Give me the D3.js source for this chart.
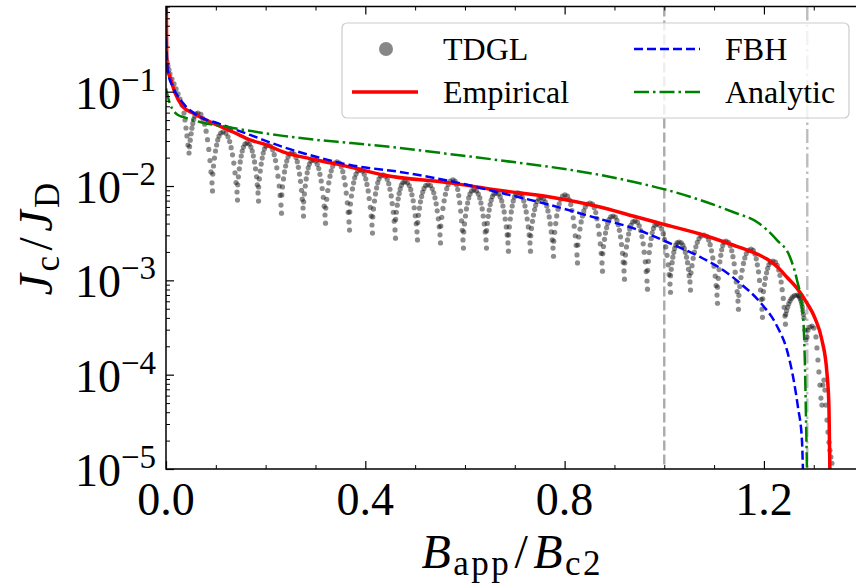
<!DOCTYPE html>
<html>
<head>
<meta charset="utf-8">
<script src="https://cdn.jsdelivr.net/npm/d3@7"></script>
<style>
  body { margin: 0; background: #fff; }
  svg { display: block; }
  text { font-family: "Liberation Serif", "DejaVu Serif", serif; fill: #000; }
</style>
</head>
<body>
<div id="chart"></div>
<script>
// ---- data (B_app/B_c2 , J_c/J_D) ----

// TDGL scatter, in order of field: the falling head, then one row per arch, then the tail
var tdgl = [
  [0.0020,0.207],[0.0040,0.187],[0.0060,0.170],[0.0080,0.154],[0.0120,0.136],[0.0161,0.121],[0.0201,0.107],[0.0241,0.0946],[0.0281,0.0837],[0.0321,0.0723],[0.0361,0.0594],[0.0381,0.0501],[0.0401,0.0412],[0.0421,0.0340],[0.0441,0.0272],[0.0462,0.0224],
  [0.0473,0.0261],[0.0487,0.0306],[0.0504,0.0358],[0.0520,0.0410],[0.0538,0.0461],[0.0556,0.0508],[0.0578,0.0549],[0.0604,0.0583],[0.0642,0.0594],[0.0700,0.0574],[0.0742,0.0518],[0.0776,0.0452],[0.0805,0.0381],[0.0833,0.0310],[0.0859,0.0244],[0.0883,0.0186],[0.0903,0.0141],[0.0923,0.0108],
  [0.0939,0.0134],[0.0953,0.0163],[0.0973,0.0198],[0.0993,0.0235],[0.1016,0.0272],[0.1038,0.0308],[0.1064,0.0339],[0.1098,0.0365],[0.1144,0.0374],[0.1202,0.0363],[0.1244,0.0332],[0.1278,0.0296],[0.1307,0.0255],[0.1335,0.0214],[0.1361,0.0175],[0.1385,0.0138],[0.1405,0.0109],[0.1425,0.00864],
  [0.1439,0.0103],[0.1453,0.0125],[0.1471,0.0152],[0.1490,0.0180],[0.1510,0.0208],[0.1530,0.0235],[0.1554,0.0259],[0.1584,0.0279],[0.1626,0.0286],[0.1672,0.0279],[0.1706,0.0259],[0.1732,0.0235],[0.1754,0.0208],[0.1777,0.0180],[0.1797,0.0152],[0.1817,0.0125],[0.1831,0.0103],[0.1847,0.00844],
  [0.1860,0.00976],[0.1874,0.0119],[0.1892,0.0144],[0.1911,0.0171],[0.1931,0.0198],[0.1951,0.0224],[0.1975,0.0247],[0.2005,0.0265],[0.2047,0.0272],[0.2101,0.0264],[0.2141,0.0242],[0.2171,0.0215],[0.2198,0.0186],[0.2224,0.0156],[0.2248,0.0127],[0.2272,0.0100],[0.2290,0.00794],[0.2308,0.00628],
  [0.2324,0.00804],[0.2338,0.00977],[0.2358,0.0119],[0.2378,0.0141],[0.2401,0.0163],[0.2423,0.0184],[0.2449,0.0203],[0.2483,0.0219],[0.2529,0.0224],[0.2575,0.0218],[0.2609,0.0201],[0.2635,0.0181],[0.2657,0.0158],[0.2680,0.0134],[0.2700,0.0112],[0.2720,0.00900],[0.2734,0.00726],[0.2750,0.00585],
  [0.2763,0.00679],[0.2777,0.00824],[0.2795,0.0100],[0.2814,0.0119],[0.2834,0.0138],[0.2854,0.0156],[0.2878,0.0171],[0.2908,0.0184],[0.2950,0.0189],[0.3000,0.0184],[0.3036,0.0170],[0.3066,0.0153],[0.3090,0.0133],[0.3115,0.0113],[0.3135,0.00941],[0.3157,0.00760],[0.3175,0.00612],[0.3191,0.00493],
  [0.3207,0.00583],[0.3225,0.00724],[0.3247,0.00896],[0.3267,0.0108],[0.3292,0.0127],[0.3316,0.0145],[0.3346,0.0162],[0.3382,0.0175],[0.3432,0.0180],[0.3482,0.0175],[0.3518,0.0160],[0.3548,0.0142],[0.3572,0.0123],[0.3597,0.0103],[0.3617,0.00841],[0.3639,0.00664],[0.3657,0.00526],[0.3673,0.00416],
  [0.3688,0.00531],[0.3702,0.00645],[0.3722,0.00784],[0.3742,0.00931],[0.3765,0.0108],[0.3787,0.0122],[0.3813,0.0134],[0.3847,0.0144],[0.3893,0.0148],[0.3943,0.0144],[0.3979,0.0133],[0.4009,0.0119],[0.4033,0.0104],[0.4058,0.00888],[0.4078,0.00737],[0.4100,0.00595],[0.4118,0.00480],[0.4134,0.00386],
  [0.4150,0.00470],[0.4164,0.00571],[0.4184,0.00694],[0.4204,0.00824],[0.4227,0.00954],[0.4249,0.0108],[0.4275,0.0119],[0.4309,0.0128],[0.4355,0.0131],[0.4405,0.0127],[0.4441,0.0118],[0.4471,0.0106],[0.4495,0.00924],[0.4520,0.00786],[0.4540,0.00652],[0.4562,0.00527],[0.4580,0.00424],[0.4596,0.00342],
  [0.4609,0.00442],[0.4623,0.00527],[0.4641,0.00627],[0.4660,0.00731],[0.4680,0.00835],[0.4700,0.00931],[0.4724,0.0102],[0.4754,0.0109],[0.4796,0.0111],[0.4846,0.0108],[0.4882,0.0101],[0.4912,0.00914],[0.4936,0.00808],[0.4961,0.00698],[0.4981,0.00588],[0.5003,0.00484],[0.5021,0.00398],[0.5037,0.00327],
  [0.5053,0.00410],[0.5067,0.00489],[0.5087,0.00582],[0.5107,0.00679],[0.5130,0.00775],[0.5152,0.00864],[0.5178,0.00943],[0.5212,0.0101],[0.5258,0.0103],[0.5308,0.0101],[0.5344,0.00934],[0.5374,0.00848],[0.5398,0.00750],[0.5423,0.00648],[0.5443,0.00546],[0.5465,0.00449],[0.5483,0.00370],[0.5499,0.00304],
  [0.5516,0.00376],[0.5534,0.00466],[0.5558,0.00578],[0.5582,0.00696],[0.5608,0.00818],[0.5635,0.00936],[0.5665,0.0104],[0.5705,0.0113],[0.5759,0.0116],[0.5801,0.0113],[0.5831,0.0103],[0.5855,0.00918],[0.5875,0.00792],[0.5895,0.00665],[0.5914,0.00542],[0.5932,0.00428],[0.5946,0.00339],[0.5960,0.00268],
  [0.5976,0.00326],[0.5990,0.00396],[0.6010,0.00481],[0.6030,0.00571],[0.6053,0.00661],[0.6075,0.00747],[0.6101,0.00824],[0.6135,0.00886],[0.6181,0.00908],[0.6231,0.00886],[0.6267,0.00824],[0.6297,0.00747],[0.6321,0.00661],[0.6346,0.00571],[0.6366,0.00481],[0.6388,0.00396],[0.6406,0.00326],[0.6422,0.00268],
  [0.6435,0.00336],[0.6449,0.00401],[0.6467,0.00477],[0.6486,0.00556],[0.6506,0.00635],[0.6526,0.00708],[0.6550,0.00773],[0.6580,0.00825],[0.6622,0.00844],[0.6672,0.00824],[0.6708,0.00766],[0.6738,0.00695],[0.6762,0.00614],[0.6787,0.00531],[0.6807,0.00447],[0.6829,0.00368],[0.6847,0.00303],[0.6863,0.00249],
  [0.6877,0.00303],[0.6891,0.00368],[0.6909,0.00447],[0.6928,0.00531],[0.6948,0.00614],[0.6968,0.00695],[0.6992,0.00766],[0.7022,0.00824],[0.7064,0.00844],[0.7114,0.00824],[0.7150,0.00766],[0.7180,0.00695],[0.7204,0.00614],[0.7229,0.00531],[0.7249,0.00447],[0.7271,0.00368],[0.7289,0.00303],[0.7305,0.00249],
  [0.7321,0.00297],[0.7335,0.00355],[0.7355,0.00422],[0.7375,0.00492],[0.7398,0.00562],[0.7420,0.00627],[0.7446,0.00684],[0.7480,0.00731],[0.7526,0.00747],[0.7576,0.00729],[0.7612,0.00678],[0.7642,0.00615],[0.7666,0.00544],[0.7691,0.00470],[0.7711,0.00396],[0.7733,0.00326],[0.7751,0.00268],[0.7767,0.00220],
  [0.7782,0.00260],[0.7800,0.00323],[0.7822,0.00400],[0.7842,0.00482],[0.7867,0.00567],[0.7891,0.00649],[0.7921,0.00722],[0.7957,0.00782],[0.8007,0.00804],[0.8057,0.00781],[0.8093,0.00715],[0.8123,0.00636],[0.8147,0.00549],[0.8172,0.00461],[0.8192,0.00375],[0.8214,0.00297],[0.8232,0.00235],[0.8248,0.00186],
  [0.8266,0.00237],[0.8284,0.00288],[0.8308,0.00350],[0.8332,0.00416],[0.8358,0.00481],[0.8385,0.00544],[0.8415,0.00600],[0.8455,0.00645],[0.8509,0.00661],[0.8559,0.00642],[0.8595,0.00588],[0.8625,0.00523],[0.8649,0.00451],[0.8674,0.00379],[0.8694,0.00309],[0.8716,0.00244],[0.8734,0.00193],[0.8750,0.00153],
  [0.8766,0.00191],[0.8780,0.00228],[0.8800,0.00272],[0.8820,0.00317],[0.8843,0.00362],[0.8865,0.00404],[0.8891,0.00441],[0.8925,0.00470],[0.8971,0.00481],[0.9017,0.00468],[0.9051,0.00432],[0.9077,0.00388],[0.9099,0.00339],[0.9122,0.00289],[0.9142,0.00240],[0.9162,0.00193],[0.9176,0.00156],[0.9192,0.00126],
  [0.9207,0.00153],[0.9221,0.00186],[0.9241,0.00226],[0.9261,0.00268],[0.9284,0.00310],[0.9306,0.00351],[0.9332,0.00386],[0.9366,0.00416],[0.9412,0.00426],[0.9462,0.00414],[0.9498,0.00379],[0.9528,0.00337],[0.9552,0.00291],[0.9577,0.00244],[0.9597,0.00199],[0.9619,0.00157],[0.9637,0.00124],[0.9653,0.000984],
  [0.9667,0.00128],[0.9681,0.00159],[0.9699,0.00197],[0.9718,0.00237],[0.9738,0.00278],[0.9758,0.00319],[0.9782,0.00355],[0.9812,0.00384],[0.9854,0.00395],[0.9908,0.00384],[0.9948,0.00351],[0.9978,0.00312],[1.0005,0.00270],[1.0031,0.00226],[1.0055,0.00184],[1.0079,0.00146],[1.0097,0.00115],[1.0115,0.000912],
  [1.0126,0.00112],[1.0140,0.00131],[1.0157,0.00154],[1.0173,0.00176],[1.0191,0.00198],[1.0209,0.00218],[1.0231,0.00236],[1.0257,0.00250],[1.0295,0.00255],[1.0341,0.00250],[1.0375,0.00236],[1.0401,0.00218],[1.0423,0.00198],[1.0446,0.00176],[1.0466,0.00154],[1.0486,0.00131],[1.0500,0.00112],[1.0516,0.000961],
  [1.0536,0.00120],[1.0556,0.00143],[1.0580,0.00171],[1.0606,0.00199],[1.0634,0.00227],[1.0663,0.00253],[1.0697,0.00277],[1.0739,0.00295],[1.0797,0.00302],[1.0851,0.00293],[1.0891,0.00268],[1.0921,0.00239],[1.0948,0.00206],[1.0974,0.00173],[1.0998,0.00141],[1.1022,0.00111],[1.1040,0.000882],[1.1058,0.000698],
  [1.1069,0.000846],[1.1083,0.00105],[1.1100,0.00130],[1.1116,0.00157],[1.1134,0.00184],[1.1152,0.00211],[1.1174,0.00234],[1.1200,0.00254],[1.1238,0.00261],[1.1288,0.00253],[1.1324,0.00232],[1.1354,0.00206],[1.1378,0.00178],[1.1403,0.00150],[1.1423,0.00122],[1.1445,0.000963],[1.1463,0.000762],[1.1479,0.000603],
  [1.1497,0.000693],[1.1515,0.000860],[1.1539,0.00107],[1.1563,0.00128],[1.1589,0.00151],[1.1616,0.00173],[1.1646,0.00192],[1.1686,0.00208],[1.1740,0.00214],[1.1786,0.00208],[1.1820,0.00190],[1.1846,0.00169],[1.1868,0.00146],[1.1891,0.00123],[1.1911,0.000999],[1.1931,0.000790],[1.1945,0.000625],[1.1961,0.000494],
  [1.1976,0.000637],[1.1990,0.000760],[1.2010,0.000904],[1.2030,0.00105],[1.2053,0.00120],[1.2075,0.00134],[1.2101,0.00147],[1.2135,0.00156],[1.2181,0.00160],[1.2231,0.00156],[1.2267,0.00144],[1.2297,0.00129],[1.2321,0.00113],[1.2346,0.000960],[1.2366,0.000797],[1.2388,0.000643],[1.2406,0.000518],[1.2422,0.000418],
  [1.2438,0.000436],[1.2456,0.000476],[1.2478,0.000521],[1.2498,0.000564],[1.2523,0.000603],[1.2547,0.000638],[1.2577,0.000667],[1.2613,0.000690],[1.2663,0.000698],[1.2693,0.000690],[1.2713,0.000667],[1.2731,0.000638],[1.2745,0.000603],[1.2759,0.000564],[1.2771,0.000521],[1.2783,0.000476],[1.2793,0.000436],[1.2803,0.000398],
  [1.2823,0.000297],[1.2843,0.000233],[1.2864,0.000250],[1.2884,0.000297],[1.2924,0.000320],[1.2964,0.000328],[1.3004,0.000312],[1.3044,0.000251],[1.3064,0.000192],[1.3084,0.000143],[1.3104,0.000107],[1.3124,0.0000776],[1.3144,0.0000565],[1.3164,0.0000476],[1.3184,0.0000776],[1.3204,0.0000877],[1.3224,0.0000687],[1.3244,0.0000476],[1.3265,0.0000330],[1.3285,0.0000246],[1.3305,0.0000192],[1.3325,0.0000158],[1.3345,0.0000134],[1.3365,0.0000115]
];

// loose TDGL points just under the troughs
var tdglLower = [
  [0.0933,0.00886],[0.1435,0.00709],[0.1857,0.00692],[0.2318,0.00515],[0.2760,0.00480],[0.3201,0.00404],[0.3683,0.00341],[0.4144,0.00317],
  [0.4606,0.00280],[0.5047,0.00268],[0.5509,0.00249],[0.5970,0.00220],[0.6432,0.00220],[0.6873,0.00204],[0.7315,0.00204],[0.7777,0.00180],
  [0.8258,0.00153],[0.8760,0.00125],[0.9202,0.00103],[0.9663,0.000807],[1.0125,0.000748],[1.0526,0.000788],[1.1068,0.000572],[1.1489,0.000494],
  [1.1971,0.000405],[1.2432,0.000343]
];

var empirical = [
  [0.0005,1.0],[0.0020,0.183],[0.0080,0.143],[0.0181,0.0969],[0.0341,0.0689],[0.0542,0.0594],[0.0682,0.0540],[0.1023,0.0444],
  [0.1345,0.0374],[0.1686,0.0308],[0.2027,0.0272],[0.2348,0.0230],[0.3030,0.0189],[0.3693,0.0159],[0.4355,0.0131],[0.5699,0.0108],
  [0.6642,0.00908],[0.7706,0.00765],[0.8710,0.00599],[0.9372,0.00481],[0.9974,0.00395],[1.0717,0.00310],[1.1379,0.00237],[1.1720,0.00204],
  [1.2061,0.00168],[1.2261,0.00140],[1.2462,0.00108],[1.2663,0.000828],[1.2864,0.000574],[1.3024,0.000398],[1.3164,0.000233],[1.3265,0.000104],
  [1.3305,0.0000453],[1.3315,0.0000202],[1.3325,0.0000085]
];

var fbh = [
  [0.0000,0.369],[0.0020,0.227],[0.0040,0.158],[0.0140,0.112],[0.0341,0.0759],[0.0682,0.0540],[0.1023,0.0466],[0.1686,0.0348],
  [0.2348,0.0259],[0.3030,0.0203],[0.3693,0.0167],[0.4696,0.0141],[0.5699,0.0113],[0.6642,0.00865],[0.7706,0.00630],[0.8710,0.00447],
  [0.9372,0.00358],[1.0054,0.00255],[1.0717,0.00177],[1.1178,0.00129],[1.1519,0.000935],[1.1920,0.000589],[1.2261,0.000328],[1.2462,0.000182],
  [1.2582,0.0000967],[1.2683,0.0000453],[1.2763,0.0000202],[1.2783,0.0000098]
];

var analytic = [
  [0.0000,0.109],[0.0040,0.0879],[0.0080,0.0741],[0.0140,0.0640],[0.0241,0.0566],[0.0341,0.0540],[0.0682,0.0478],[0.1345,0.0412],
  [0.2348,0.0340],[0.3030,0.0308],[0.3693,0.0286],[0.4696,0.0253],[0.5699,0.0218],[0.6642,0.0189],[0.8710,0.0131],[0.9372,0.0111],
  [1.0054,0.00908],[1.0717,0.00711],[1.1379,0.00530],[1.1860,0.00415],[1.2261,0.00267],[1.2522,0.00177],[1.2663,0.00101],[1.2763,0.000521],
  [1.2804,0.000276],[1.2824,0.000120],[1.2844,0.0000355],[1.2864,0.0000098]
];

var refFields = [1.0, 1.287];                 // vertical guides
var xDomain = [0, 1.39];
var yDomain = [1e-5, 0.8];
var xTickVals = [0, 0.4, 0.8, 1.2];
var xMinorVals = [0.1, 0.2, 0.3, 0.5, 0.6, 0.7, 0.9, 1.0, 1.1, 1.3];
var yExponents = [-1, -2, -3, -4, -5];
var legendLabels = ['TDGL', 'Empirical', 'FBH', 'Analytic'];

// ---- layout ----
var W = 856, H = 585;
var plot = {left: 166, top: 6.5, right: 858.6, bottom: 469};

var svg = d3.select('#chart').append('svg')
  .attr('width', W)
  .attr('height', H);

var x = d3.scaleLinear().domain(xDomain).range([plot.left, plot.right]);
var y = d3.scaleLog().domain(yDomain).range([plot.bottom, plot.top]);

svg.append('clipPath').attr('id', 'plotClip')
  .append('rect')
  .attr('x', plot.left).attr('y', plot.top)
  .attr('width', plot.right - plot.left).attr('height', plot.bottom - plot.top);

var body = svg.append('g').attr('clip-path', 'url(#plotClip)');

// vertical guides
var guideDash = ['10,4', '14,4,2.5,4'];
var guideColor = ['#aaaaaa', '#bdbdbd'];
body.selectAll('line.guide')
  .data(refFields)
  .join('line')
    .attr('class', 'guide')
    .attr('x1', d => x(d)).attr('x2', d => x(d))
    .attr('y1', plot.top).attr('y2', plot.bottom)
    .attr('stroke', (d, i) => guideColor[i])
    .attr('stroke-width', 2.4)
    .attr('stroke-dasharray', (d, i) => guideDash[i]);

// TDGL dots
body.append('g')
  .selectAll('circle')
  .data(tdgl.concat(tdglLower))
  .join('circle')
    .attr('cx', d => x(d[0]))
    .attr('cy', d => y(d[1]))
    .attr('r', 2.6)
    .attr('fill', '#000')
    .attr('fill-opacity', 0.45);

var line = d3.line()
  .x(d => x(d[0]))
  .y(d => y(d[1]))
  .curve(d3.curveMonotoneX);

body.append('path').datum(empirical)
  .attr('d', line).attr('fill', 'none')
  .attr('stroke', '#ff0000').attr('stroke-width', 3.5);

body.append('path').datum(fbh)
  .attr('d', line).attr('fill', 'none')
  .attr('stroke', '#0000ff').attr('stroke-width', 2.5)
  .attr('stroke-dasharray', '9,4');

body.append('path').datum(analytic)
  .attr('d', line).attr('fill', 'none')
  .attr('stroke', '#008000').attr('stroke-width', 2.5)
  .attr('stroke-dasharray', '15,4,2.5,4');

// ---- axes (ticks point inward) ----
function tickStyle(g, w) {
  g.select('.domain').remove();
  g.selectAll('.tick line').attr('stroke', '#000').attr('stroke-width', w);
  g.selectAll('.tick text').remove();
}
var yMinorVals = y.ticks().filter(v => Math.abs(Math.log10(v) - Math.round(Math.log10(v))) > 1e-6);
var yMajorVals = yExponents.map(e => Math.pow(10, e));

svg.append('g').attr('transform', 'translate(0,' + plot.bottom + ')')
  .call(d3.axisBottom(x).tickValues(xTickVals).tickSize(-8)).call(g => tickStyle(g, 1.2));
svg.append('g').attr('transform', 'translate(0,' + plot.bottom + ')')
  .call(d3.axisBottom(x).tickValues(xMinorVals).tickSize(-4)).call(g => tickStyle(g, 1));
svg.append('g').attr('transform', 'translate(0,' + plot.top + ')')
  .call(d3.axisTop(x).tickValues(xTickVals).tickSize(-8)).call(g => tickStyle(g, 1.2));
svg.append('g').attr('transform', 'translate(0,' + plot.top + ')')
  .call(d3.axisTop(x).tickValues(xMinorVals).tickSize(-4)).call(g => tickStyle(g, 1));
svg.append('g').attr('transform', 'translate(' + plot.left + ',0)')
  .call(d3.axisLeft(y).tickValues(yMajorVals).tickSize(-8)).call(g => tickStyle(g, 1.2));
svg.append('g').attr('transform', 'translate(' + plot.left + ',0)')
  .call(d3.axisLeft(y).tickValues(yMinorVals).tickSize(-4)).call(g => tickStyle(g, 1));

// frame
svg.append('rect')
  .attr('x', plot.left).attr('y', plot.top)
  .attr('width', plot.right - plot.left).attr('height', plot.bottom - plot.top)
  .attr('fill', 'none').attr('stroke', '#000').attr('stroke-width', 1.5);

// tick labels
svg.append('g').selectAll('text')
  .data(xTickVals)
  .join('text')
    .attr('x', d => x(d))
    .attr('y', plot.bottom + 46)
    .attr('text-anchor', 'middle')
    .style('font-size', '46px')
    .text(d => d3.format('.1f')(d));

var yLab = svg.append('g').selectAll('text')
  .data(yExponents)
  .join('text')
    .attr('x', plot.left - 10)
    .attr('y', d => y(Math.pow(10, d)) + 17)
    .attr('text-anchor', 'end')
    .style('font-size', '46px');
yLab.append('tspan').text('10');
yLab.append('tspan').attr('dy', -18).style('font-size', '33px').text(d => '\u2212' + (-d));

// axis titles
function mathLabel(t, a, sa, b, sb) {
  t.append('tspan').style('font-style', 'italic').text(a);
  t.append('tspan').attr('dy', 7).style('font-size', '35px').text(sa);
  t.append('tspan').attr('dy', -7).attr('dx', 3).text('/');
  t.append('tspan').attr('dx', 3).style('font-style', 'italic').text(b);
  t.append('tspan').attr('dy', 7).style('font-size', '35px').text(sb);
}
var xt = svg.append('text')
  .attr('x', (plot.left + plot.right) / 2)
  .attr('y', 568)
  .attr('text-anchor', 'middle')
  .style('font-size', '48px')
  .style('letter-spacing', '2.5px');
mathLabel(xt, 'B', 'app', 'B', 'c2');

var yt = svg.append('text')
  .attr('transform', 'translate(52,' + ((plot.top + plot.bottom) / 2) + ') rotate(-90)')
  .attr('text-anchor', 'middle')
  .style('font-size', '48px')
  .style('letter-spacing', '2.5px');
mathLabel(yt, 'J', 'c', 'J', 'D');

// ---- legend (two columns) ----
var leg = svg.append('g');
leg.append('rect')
  .attr('x', 342).attr('y', 23).attr('width', 507).attr('height', 95).attr('rx', 5)
  .attr('fill', '#fff').attr('fill-opacity', 0.8)
  .attr('stroke', '#cccccc').attr('stroke-width', 1.2);

var legendStyle = [
  {col: 0, row: 0},
  {col: 0, row: 1, color: '#ff0000', width: 3.5, dash: null},
  {col: 1, row: 0, color: '#0000ff', width: 2.5, dash: '9,4'},
  {col: 1, row: 1, color: '#008000', width: 2.5, dash: '15,4,2.5,4'}
];
var colX = [352, 634], rowY = [49, 92];
legendLabels.forEach(function(label, i) {
  var s = legendStyle[i];
  var lx = colX[s.col], ly = rowY[s.row];
  if (i === 0) {
    leg.append('circle').attr('cx', lx + 34).attr('cy', ly).attr('r', 7)
      .attr('fill', '#000').attr('fill-opacity', 0.47);
  } else {
    leg.append('line')
      .attr('x1', lx).attr('x2', lx + 66).attr('y1', ly).attr('y2', ly)
      .attr('stroke', s.color).attr('stroke-width', s.width)
      .attr('stroke-dasharray', s.dash);
  }
  leg.append('text')
    .attr('x', lx + 91).attr('y', ly + 11)
    .style('font-size', '32px')
    .text(label);
});
</script>
</body>
</html>
